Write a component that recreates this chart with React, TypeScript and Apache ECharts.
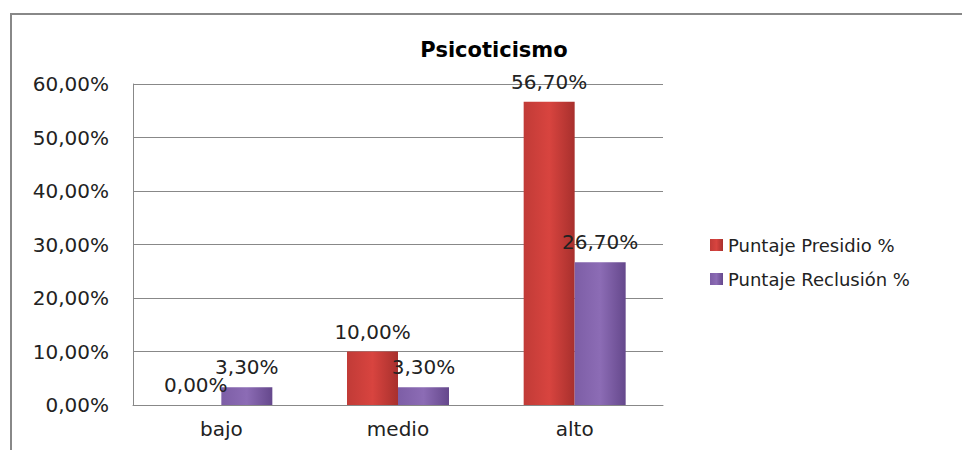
import React, { useEffect, useRef } from "react";
import * as echarts from "echarts";

const categories = ["bajo", "medio", "alto"];
const presidio = [0.0, 10.0, 56.7];
const reclusion = [3.3, 3.3, 26.7];
const seriesNames = ["Puntaje Presidio %", "Puntaje Reclusión %"];
const yTicks = [0, 10, 20, 30, 40, 50, 60];

const fmt = (v: number) => v.toFixed(2).replace(".", ",") + "%";

export default function App() {
  const ref = useRef<HTMLDivElement>(null);
  useEffect(() => {
    document.body.style.margin = "0";
    const chart = echarts.init(ref.current!, null, { renderer: "svg" });
    const grad = (c1: string, c2: string, c3: string) =>
      new echarts.graphic.LinearGradient(0, 0, 1, 0, [
        { offset: 0, color: c1 },
        { offset: 0.5, color: c2 },
        { offset: 1, color: c3 },
      ]);
    const labelStyle = {
      show: true,
      position: "top" as const,
      distance: 10,
      formatter: (p: any) => fmt(p.value),
      fontFamily: "DejaVu Sans",
      fontSize: 20,
      color: "#222",
    };
    chart.setOption({
      animation: false,
      backgroundColor: "#fff",
      title: {
        text: "Psicoticismo",
        left: 489,
        textAlign: "center",
        top: 34,
        textStyle: { fontFamily: "DejaVu Sans", fontWeight: "bold", fontSize: 21, color: "#000" },
      },
      graphic: [
        {
          type: "rect",
          shape: { x: 11, y: 14, width: 1200, height: 800 },
          style: { fill: "none", stroke: "#888", lineWidth: 2 },
          silent: true,
        },
      ],
      legend: {
        orient: "vertical",
        left: 705,
        top: 231,
        itemWidth: 13,
        itemHeight: 12,
        itemGap: 16,
        icon: "rect",
        data: seriesNames,
        textStyle: { fontFamily: "DejaVu Sans", fontSize: 18, color: "#222" },
      },
      grid: { left: 133, right: 299, top: 84, bottom: 45 },
      xAxis: {
        type: "category",
        data: categories,
        axisLine: { lineStyle: { color: "#888" } },
        axisTick: { show: false },
        axisLabel: { fontFamily: "DejaVu Sans", fontSize: 20, color: "#222", margin: 14 },
      },
      yAxis: {
        type: "value",
        min: yTicks[0],
        max: yTicks[yTicks.length - 1],
        interval: 10,
        axisLine: { show: true, lineStyle: { color: "#888" } },
        axisTick: { show: false },
        splitLine: { lineStyle: { color: "#888" } },
        axisLabel: {
          fontFamily: "DejaVu Sans",
          fontSize: 20,
          color: "#222",
          margin: 24,
          formatter: (v: number) => fmt(v),
        },
      },
      series: [
        {
          name: seriesNames[0],
          type: "bar",
          data: presidio,
          barWidth: 51,
          barGap: "0%",
          itemStyle: {
            color: grad("#c13b37", "#d8443f", "#a8302d"),
          },
          label: labelStyle,
        },
        {
          name: seriesNames[1],
          type: "bar",
          data: reclusion,
          barWidth: 51,
          barGap: "0%",
          itemStyle: {
            color: grad("#7d5ea6", "#8c6cb5", "#65488c"),
          },
          label: labelStyle,
        },
      ],
    });
    return () => chart.dispose();
  }, []);
  return <div ref={ref} style={{ width: 962, height: 450 }} />;
}
